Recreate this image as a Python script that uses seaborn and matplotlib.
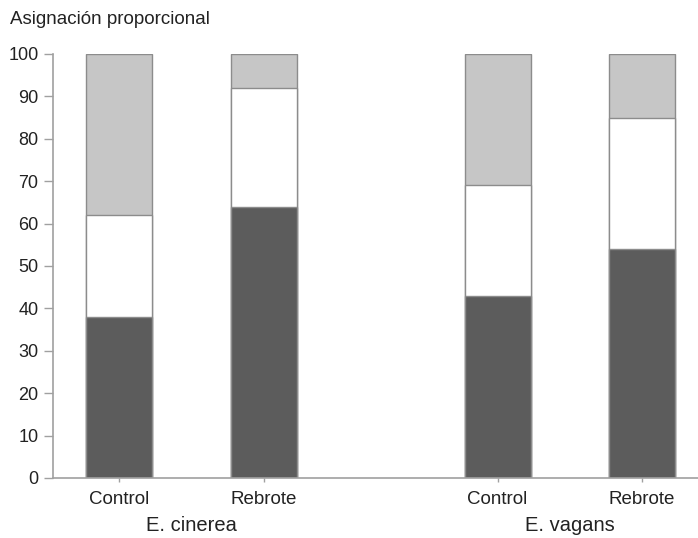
import numpy as np
import pandas as pd
import matplotlib
matplotlib.use("Agg")
import matplotlib.pyplot as plt
import seaborn as sns

# data (percent of total allocation)
species = ["E. cinerea", "E. cinerea", "E. vagans", "E. vagans"]
treatments = ["Control", "Rebrote", "Control", "Rebrote"]
dark_part = [38, 64, 43, 54]    # bottom segment
white_part = [24, 28, 26, 31]   # middle segment
light_part = [38, 8, 31, 15]    # top segment
y_ticks = [0, 10, 20, 30, 40, 50, 60, 70, 80, 90, 100]

sns.set_style("white")
plt.rcParams['font.family'] = ['Liberation Sans', 'DejaVu Sans']

df = pd.DataFrame({"species": species, "treatment": treatments,
                   "dark": dark_part, "white": white_part, "light": light_part})
df["mid_top"] = df["dark"] + df["white"]
df["top"] = df["mid_top"] + df["light"]

# bar positions: two per species, wider gap between species
gap = 1.62
df["pos"] = [0, 1, gap + 1, gap + 2]

fig = plt.figure(figsize=(6.98, 5.38), dpi=100)
ax = fig.add_axes([53/698, 60/538, 1 - 53/698, 424/538])

edge = "#8c8c8c"
common = dict(x="pos", orient="x", native_scale=True, width=0.457,
              saturation=1, edgecolor=edge, linewidth=1.0, ax=ax, errorbar=None)
sns.barplot(data=df, y="top", color="#c6c6c6", **common)
sns.barplot(data=df, y="mid_top", color="white", **common)
sns.barplot(data=df, y="dark", color="#5c5c5c", **common)

ax.set_ylim(0, 100)
ax.set_xlim(-0.457, 4.007)
ax.set_yticks(y_ticks)
ax.set_xticks(df["pos"])
ax.set_xticklabels(df["treatment"])
ax.set_xlabel("")
ax.set_ylabel("")

for s in ["top", "right"]:
    ax.spines[s].set_visible(False)
for s in ["left", "bottom"]:
    ax.spines[s].set_color("#a0a0a0")
    ax.spines[s].set_linewidth(1.2)

ax.tick_params(axis="y", left=True, length=6.5, width=1, color="#a0a0a0",
               pad=4, labelsize=13, labelcolor="#222222")
ax.tick_params(axis="x", bottom=True, length=3, width=1, color="#a0a0a0",
               pad=6, labelsize=13.5, labelcolor="#222222")

# species labels under each pair of bars
for name, grp in df.groupby("species"):
    ax.text(grp["pos"].mean(), -0.113, name, transform=ax.get_xaxis_transform(),
            ha="center", va="center", fontsize=14.5, color="#222222")

fig.text(10/698, 1 - 20/538, "Asignación proporcional", ha="left", va="center",
         fontsize=13.5, color="#222222")

fig.savefig("out.png", dpi=100)
